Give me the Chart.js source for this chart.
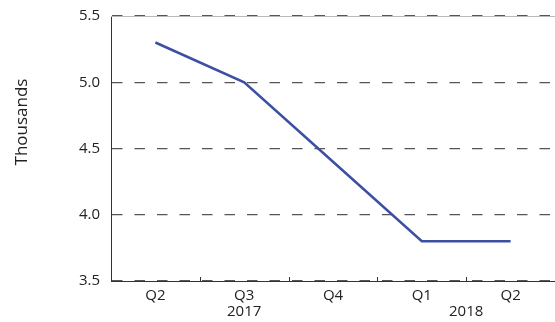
<!DOCTYPE html>
<html>
<head>
<meta charset="utf-8">
<script src="https://cdn.jsdelivr.net/npm/chart.js@4.4.1/dist/chart.umd.min.js"></script>
<style>
  html, body { margin: 0; padding: 0; background: #fff; }
  #wrap { width: 555px; height: 322px; }
</style>
</head>
<body>
<div id="wrap"><canvas id="quarterChart"></canvas></div>
<script>
// quarterly series, in thousands
const quarters = ['Q2', 'Q3', 'Q4', 'Q1', 'Q2'];
const values = [5.3, 5.0, 4.4, 3.8, 3.8];
const years = ['2017', '2018'];
const yearSpans = [[0, 2], [3, 4]]; // first/last quarter index of each year
const yTicks = [3.5, 4.0, 4.5, 5.0, 5.5];
const unitLabel = 'Thousands';

const FONT = '"Open Sans", "Noto Sans", sans-serif';

// inward tick marks between quarters, faint top rule, year labels and unit title
const quarterDecor = {
    id: 'quarterDecor',
    afterDraw(chart) {
        const { ctx, chartArea } = chart;
        const x = chart.scales.x;
        const y = chart.scales.y;
        ctx.save();

        const topY = Math.round(y.getPixelForValue(y.max)) + 0.5;
        ctx.strokeStyle = '#bbb';
        ctx.lineWidth = 1;
        ctx.beginPath();
        ctx.moveTo(chartArea.left, topY);
        ctx.lineTo(chartArea.right, topY);
        ctx.stroke();

        ctx.strokeStyle = '#333';
        ctx.beginPath();
        for (let i = 1; i < quarters.length; i++) {
            const px = Math.round((x.getPixelForValue(i - 1) + x.getPixelForValue(i)) / 2) + 0.5;
            ctx.moveTo(px, chartArea.bottom);
            ctx.lineTo(px, chartArea.bottom - 4);
        }
        ctx.stroke();

        ctx.fillStyle = '#222';
        ctx.font = '15px ' + FONT;
        ctx.textAlign = 'center';
        ctx.textBaseline = 'middle';
        years.forEach((yr, i) => {
            const [a, b] = yearSpans[i];
            const px = (x.getPixelForValue(a) + x.getPixelForValue(b)) / 2;
            ctx.fillText(yr, px, chartArea.bottom + 31);
        });

        // unit title sits in the upper part of the value axis
        ctx.font = '17px ' + FONT;
        ctx.translate(22, chartArea.top + (chartArea.bottom - chartArea.top) * 0.4);
        ctx.rotate(-Math.PI / 2);
        ctx.fillText(unitLabel, 0, 0);
        ctx.restore();
    }
};

new Chart(document.getElementById('quarterChart'), {
    type: 'line',
    data: {
        labels: quarters,
        datasets: [{
            data: values,
            borderColor: '#3b4fa3',
            borderWidth: 2.5,
            pointRadius: 0,
            tension: 0,
            fill: false
        }]
    },
    options: {
        responsive: true,
        maintainAspectRatio: false,
        animation: false,
        layout: { padding: { top: 16, right: 0, bottom: 0, left: 0 } },
        scales: {
            x: {
                offset: true,
                grid: { display: false },
                border: { display: true, color: '#333', width: 1 },
                ticks: {
                    color: '#222',
                    padding: -2,
                    font: { family: FONT, size: 15 },
                    maxRotation: 0
                },
                afterFit: (scale) => { scale.height = 41; }
            },
            y: {
                min: 3.5,
                max: 5.5,
                afterBuildTicks: (scale) => { scale.ticks = yTicks.map(v => ({ value: v })); },
                grid: { color: '#555', lineWidth: 1.2, drawTicks: false },
                border: { display: true, color: '#333', width: 1, dash: [10.5, 12] },
                ticks: {
                    color: '#222',
                    padding: 11,
                    font: { family: FONT, size: 15 },
                    callback: (v) => Number(v).toFixed(1)
                },
                afterFit: (scale) => {
                    scale.width = 111;
                    scale.paddingTop = 0;
                    scale.paddingBottom = 0;
                }
            }
        },
        plugins: {
            legend: { display: false },
            tooltip: { enabled: false }
        }
    },
    plugins: [quarterDecor]
});
</script>
</body>
</html>
